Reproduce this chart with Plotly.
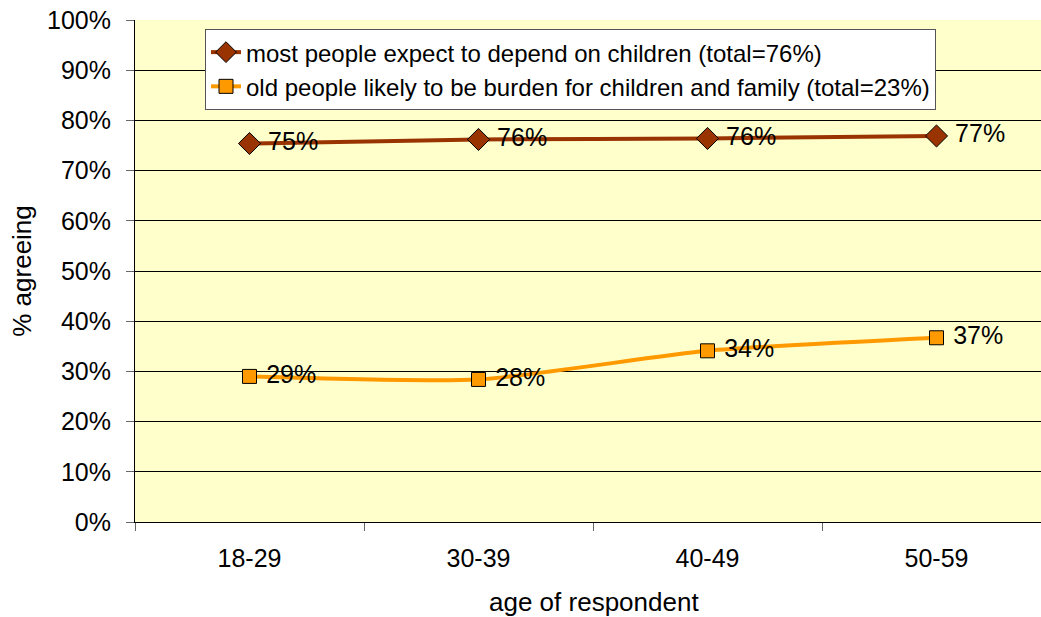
import plotly.graph_objects as go

categories = ["18-29", "30-39", "40-49", "50-59"]
depend_values = [75.4, 76.2, 76.4, 76.9]
burden_values = [29.0, 28.4, 34.1, 36.7]
series_names = [
    "most people expect to depend on children (total=76%)",
    "old people likely to be burden for children and family (total=23%)",
]
y_ticks = [0, 10, 20, 30, 40, 50, 60, 70, 80, 90, 100]
y_tick_labels = ["0%", "10%", "20%", "30%", "40%", "50%", "60%", "70%", "80%", "90%", "100%"]

FONT = "Arial, 'Liberation Sans', sans-serif"

fig = go.Figure()
fig.add_trace(go.Scatter(
    x=categories, y=depend_values, name=series_names[0],
    mode="lines+markers+text",
    line=dict(color="#993300", width=4, shape="spline", smoothing=0.6),
    marker=dict(symbol="diamond", size=17, color="#993300",
                line=dict(color="#000000", width=1)),
    texttemplate=" %{y:.0f}%", textposition="middle right",
    textfont=dict(family=FONT, size=25, color="#000000"),
))
fig.add_trace(go.Scatter(
    x=categories, y=burden_values, name=series_names[1],
    mode="lines+markers+text",
    line=dict(color="#FF9900", width=4, shape="spline", smoothing=0.6),
    marker=dict(symbol="square", size=14, color="#FF9900",
                line=dict(color="#000000", width=1)),
    texttemplate=" %{y:.0f}%", textposition="middle right",
    textfont=dict(family=FONT, size=25, color="#000000"),
))

fig.update_layout(
    width=1041, height=617,
    margin=dict(l=135, r=0, t=20, b=94.5),
    paper_bgcolor="#FFFFFF",
    plot_bgcolor="#FFFFCC",
    font=dict(family=FONT, size=25, color="#000000"),
    showlegend=True,
    legend=dict(
        x=(205 - 135) / 906, y=0.982, xanchor="left", yanchor="top",
        bgcolor="#FFFFFF", bordercolor="#555555", borderwidth=1,
        font=dict(family=FONT, size=24, color="#000000"),
        tracegroupgap=0, entrywidth=695, entrywidthmode="pixels",
    ),
    xaxis=dict(
        type="category",
        categoryorder="array", categoryarray=categories,
        range=[-0.5, -0.5 + 906 / 229],
        showgrid=False, zeroline=False,
        showline=True, linecolor="#000000", linewidth=1,
        ticks="outside", tickson="boundaries", ticklen=8, tickcolor="#666666",
        tickfont=dict(family=FONT, size=25),
        ticklabelstandoff=14,
    ),
    yaxis=dict(
        range=[0, 100], tickmode="array", tickvals=y_ticks, ticktext=y_tick_labels,
        showgrid=True, gridcolor="#000000", gridwidth=1,
        zeroline=False,
        showline=True, linecolor="#000000", linewidth=1,
        ticks="outside", ticklen=8, tickcolor="#666666",
        tickfont=dict(family=FONT, size=25),
        ticklabelstandoff=10,
    ),
    annotations=[
        dict(text="age of respondent", xref="paper", yref="paper",
             x=(593.5 - 135) / 906, y=(522.5 - 603) / 502.5,
             xanchor="center", yanchor="middle", showarrow=False,
             font=dict(family=FONT, size=26)),
        dict(text="% agreeing", xref="paper", yref="paper",
             x=(22 - 135) / 906, y=(522.5 - 271) / 502.5,
             xanchor="center", yanchor="middle", showarrow=False,
             textangle=-90, font=dict(family=FONT, size=26)),
    ],
)

fig.write_html("out.html")
